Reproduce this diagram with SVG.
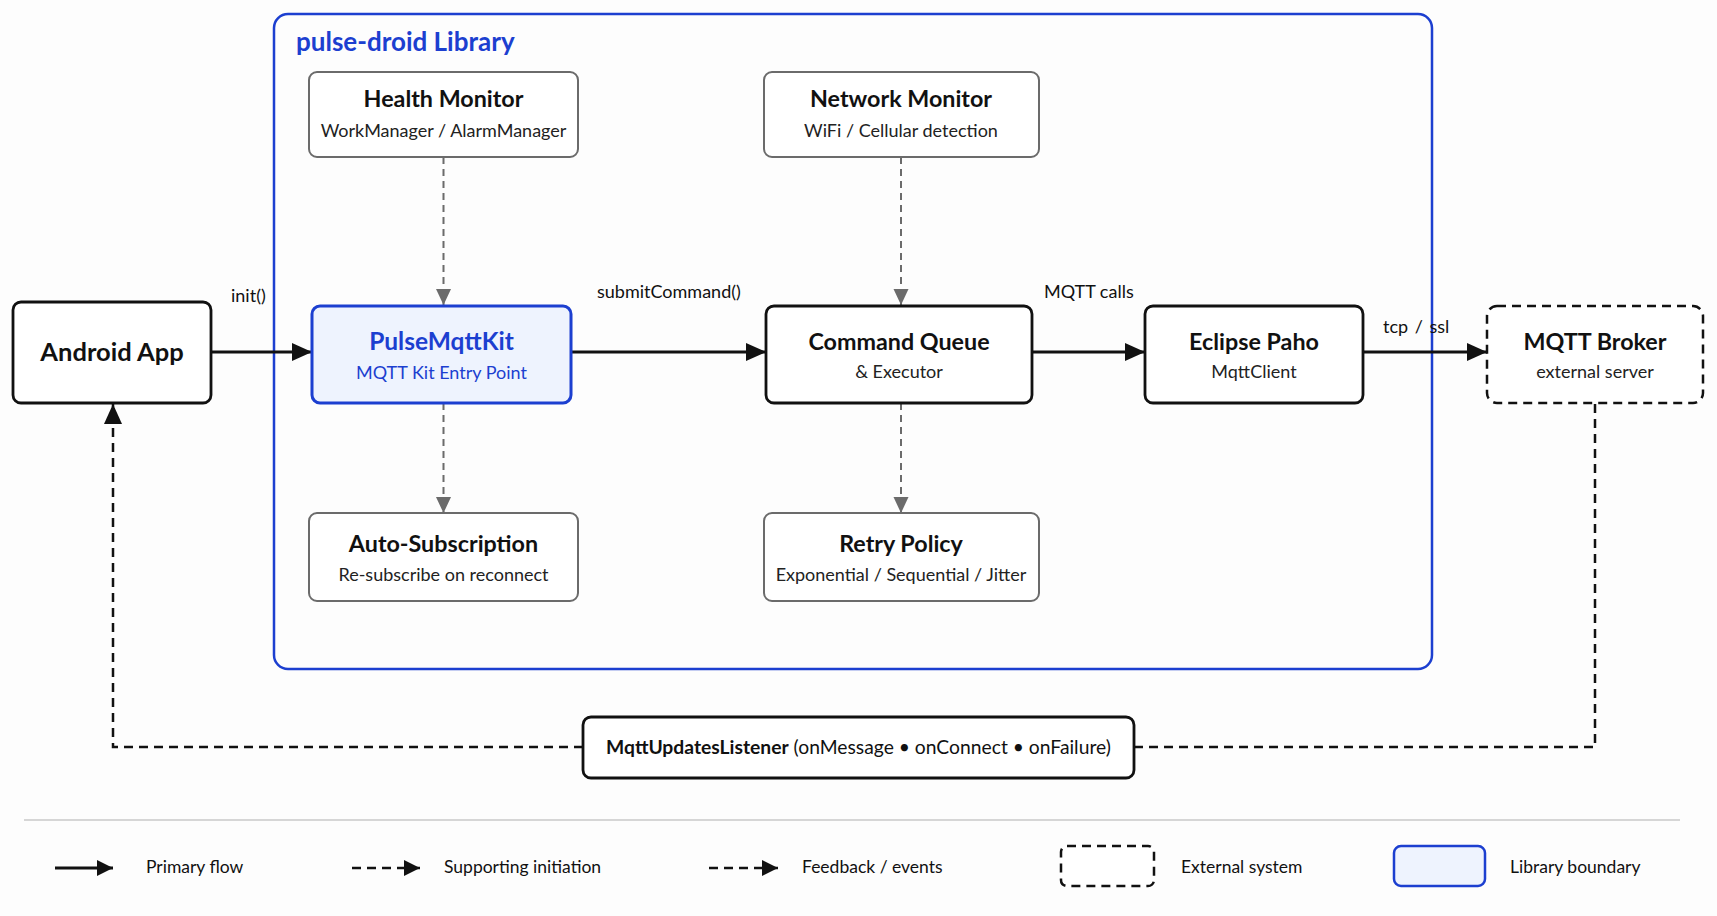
<svg xmlns="http://www.w3.org/2000/svg" width="1717" height="916" viewBox="0 0 1717 916">
<defs>
<style>
text{font-family:Lato,"Noto Sans","Liberation Sans",sans-serif;fill:#111}
.t{font-weight:700;font-size:23.3px;text-anchor:middle}
.s{font-size:18px;text-anchor:middle;fill:#222}
.lbl{font-size:18px;fill:#111}
.box{fill:#fff;stroke:#111;stroke-width:2.8}
.gbox{fill:#fff;stroke:#6b6b6b;stroke-width:2}
.ext{fill:#fff;stroke:#111;stroke-width:2.5;stroke-dasharray:9 6}
.blue{fill:#eef3fe;stroke:#1c3fd0;stroke-width:3}
.main{fill:none;stroke:#111;stroke-width:2.8}
.sup{fill:none;stroke:#6b6b6b;stroke-width:2;stroke-dasharray:7 5}
.fb{fill:none;stroke:#111;stroke-width:2.5;stroke-dasharray:9 6}
.leg{font-size:17.5px;fill:#111}
</style>
<marker id="ah" markerUnits="userSpaceOnUse" markerWidth="22" markerHeight="20" refX="20" refY="10" orient="auto"><path d="M0,1 L20,10 L0,19 Z" fill="#111"/></marker>
<marker id="ahg" markerUnits="userSpaceOnUse" markerWidth="18" markerHeight="18" refX="16" refY="9" orient="auto"><path d="M0,1.5 L16,9 L0,16.5 Z" fill="#6b6b6b"/></marker>
<marker id="ahs" markerUnits="userSpaceOnUse" markerWidth="18" markerHeight="18" refX="16" refY="9" orient="auto"><path d="M0,1 L16,9 L0,17 Z" fill="#111"/></marker>
</defs>
<rect width="1717" height="916" fill="#fdfdfd"/>

<g id="library">
<rect x="274" y="14" width="1158" height="655" rx="14" fill="none" stroke="#1c3fd0" stroke-width="2.5"/>
<text x="296" y="51" font-size="26" font-weight="700" style="fill:#1c3fd0">pulse-droid Library</text>
</g>

<g id="connectors">
<path class="main" d="M211,352 H312" marker-end="url(#ah)"/>
<path class="main" d="M571,352 H766" marker-end="url(#ah)"/>
<path class="main" d="M1032,352 H1145" marker-end="url(#ah)"/>
<path class="main" d="M1363,352 H1487" marker-end="url(#ah)"/>
<path class="sup" d="M443.5,157 V305" marker-end="url(#ahg)"/>
<path class="sup" d="M901,157 V305" marker-end="url(#ahg)"/>
<path class="sup" d="M443.5,403 V513" marker-end="url(#ahg)"/>
<path class="sup" d="M901,403 V513" marker-end="url(#ahg)"/>
<path class="fb" d="M583,747 H113 V404" marker-end="url(#ah)"/>
<path class="fb" d="M1134,747 H1595 V404"/>
<text class="lbl" x="231" y="302">init()</text>
<text class="lbl" x="597" y="298">submitCommand()</text>
<text class="lbl" x="1044" y="298">MQTT calls</text>
<text class="lbl" x="1383" y="333" word-spacing="2">tcp / ssl</text>
</g>

<g id="android-app">
<rect class="box" x="13" y="302" width="198" height="101" rx="8"/>
<text class="t" x="112" y="361" style="font-size:25.5px">Android App</text>
</g>

<g id="health-monitor">
<rect class="gbox" x="309" y="72" width="269" height="85" rx="8"/>
<text class="t" x="443.5" y="107">Health Monitor</text>
<text class="s" x="443.5" y="137">WorkManager / AlarmManager</text>
</g>

<g id="network-monitor">
<rect class="gbox" x="764" y="72" width="275" height="85" rx="8"/>
<text class="t" x="901" y="107">Network Monitor</text>
<text class="s" x="901" y="137">WiFi / Cellular detection</text>
</g>

<g id="pulse-mqtt-kit">
<rect class="blue" x="312" y="306" width="259" height="97" rx="8"/>
<text class="t" x="441.5" y="350" style="fill:#1c3fd0;font-size:24.5px">PulseMqttKit</text>
<text class="s" x="441.5" y="379" style="fill:#1c3fd0">MQTT Kit Entry Point</text>
</g>

<g id="command-queue">
<rect class="box" x="766" y="306" width="266" height="97" rx="8"/>
<text class="t" x="899" y="350">Command Queue</text>
<text class="s" x="899" y="378">&amp; Executor</text>
</g>

<g id="eclipse-paho">
<rect class="box" x="1145" y="306" width="218" height="97" rx="8"/>
<text class="t" x="1254" y="350">Eclipse Paho</text>
<text class="s" x="1254" y="378">MqttClient</text>
</g>

<g id="mqtt-broker">
<rect class="ext" x="1487" y="306" width="216" height="97" rx="10"/>
<text class="t" x="1595" y="350">MQTT Broker</text>
<text class="s" x="1595" y="378">external server</text>
</g>

<g id="auto-subscription">
<rect class="gbox" x="309" y="513" width="269" height="88" rx="8"/>
<text class="t" x="443.5" y="552">Auto-Subscription</text>
<text class="s" x="443.5" y="581">Re-subscribe on reconnect</text>
</g>

<g id="retry-policy">
<rect class="gbox" x="764" y="513" width="275" height="88" rx="8"/>
<text class="t" x="901" y="552">Retry Policy</text>
<text class="s" x="901" y="581">Exponential / Sequential / Jitter</text>
</g>

<g id="listener">
<rect class="box" x="583" y="717" width="551" height="61" rx="8"/>
<text x="858.5" y="754" font-size="19.3" text-anchor="middle"><tspan font-weight="700">MqttUpdatesListener</tspan> (onMessage • onConnect • onFailure)</text>
</g>

<g id="legend">
<line x1="24" y1="820" x2="1680" y2="820" stroke="#d6d6d6" stroke-width="2"/>
<path class="main" d="M55,868 H113" marker-end="url(#ahs)"/>
<text class="leg" x="146" y="873">Primary flow</text>
<path class="fb" d="M352,868 H420" stroke-dasharray="8 5" marker-end="url(#ahs)"/>
<text class="leg" x="444" y="873">Supporting initiation</text>
<path class="fb" d="M709,868 H778" stroke-dasharray="6 4" marker-end="url(#ahs)"/>
<text class="leg" x="802" y="873">Feedback / events</text>
<rect class="ext" x="1061" y="846" width="93" height="40" rx="6" stroke-dasharray="7 5"/>
<text class="leg" x="1181" y="873">External system</text>
<rect x="1394" y="846" width="91" height="40" rx="7" fill="#eef3fe" stroke="#1c3fd0" stroke-width="2.5"/>
<text class="leg" x="1510" y="873">Library boundary</text>
</g>
</svg>
